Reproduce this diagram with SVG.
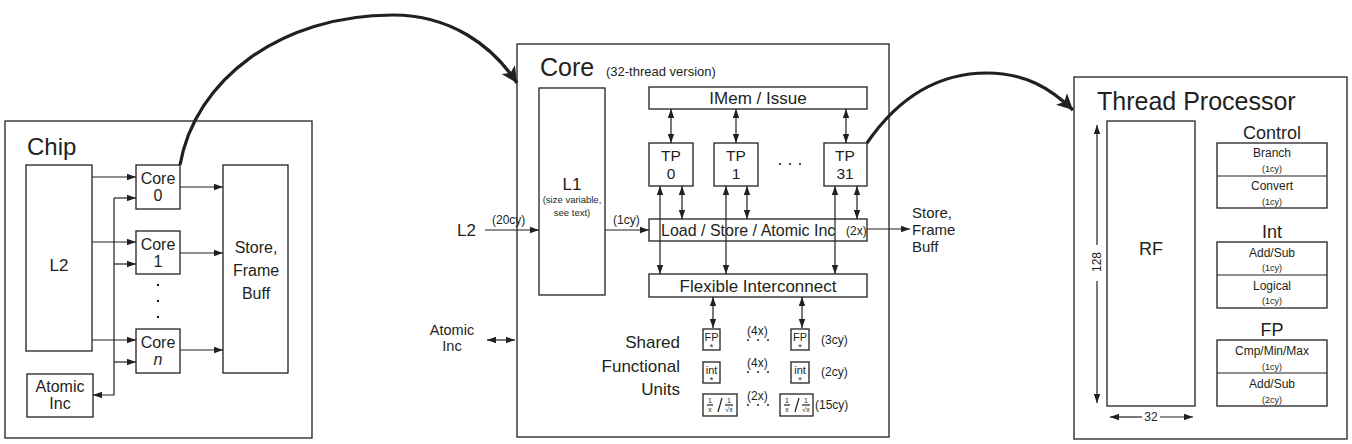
<svg xmlns="http://www.w3.org/2000/svg" width="1352" height="444" viewBox="0 0 1352 444">
<style>
text{font-family:"Liberation Sans",Arial,sans-serif;fill:#231f20}
.box{fill:#fff;stroke:#231f20;stroke-width:1.3}
.ln{fill:none;stroke:#231f20;stroke-width:1.2}
.big{fill:none;stroke:#231f20;stroke-width:3.2}
.m{text-anchor:middle}
.e{text-anchor:end}
.f17{font-size:17px}
.f16{font-size:16px}
.f15{font-size:15.5px}
.f12{font-size:12px}
.f11{font-size:11px}
.f9{font-size:9px}
</style>
<defs>
<marker id="ah" markerUnits="userSpaceOnUse" markerWidth="10" markerHeight="8" refX="9" refY="4" orient="auto-start-reverse">
<path d="M0,0.8 L9,4 L0,7.2 Z" fill="#231f20"/>
</marker>
<marker id="bh" markerUnits="userSpaceOnUse" markerWidth="18" markerHeight="16" refX="16" refY="8" orient="auto">
<path d="M0,0 L16,8 L0,16 L4,8 Z" fill="#231f20"/>
</marker>
</defs>
<rect width="1352" height="444" fill="#fff"/>

<!-- Chip -->
<g id="chip">
<rect class="box" x="5" y="121" width="307" height="317"/>
<text x="27" y="155" font-size="24">Chip</text>
</g>
<g id="chip-l2"><rect class="box" x="26" y="165" width="66" height="186"/><text class="m f17" x="59" y="271">L2</text></g>
<g id="chip-core0"><rect class="box" x="136" y="165" width="44" height="44"/><text class="m f16" x="158" y="184">Core</text><text class="m f16" x="158" y="201">0</text></g>
<g id="chip-core1"><rect class="box" x="136" y="231" width="44" height="43"/><text class="m f16" x="158" y="250">Core</text><text class="m f16" x="158" y="267">1</text></g>
<g id="chip-coren"><rect class="box" x="136" y="329" width="44" height="44"/><text class="m f16" x="158" y="348">Core</text><text class="m f16" x="158" y="365" font-style="italic">n</text></g>
<g id="chip-dots" fill="#231f20"><circle cx="158" cy="285" r="1.2"/><circle cx="158" cy="301" r="1.2"/><circle cx="158" cy="317" r="1.2"/></g>
<g id="chip-store"><rect class="box" x="223" y="165" width="65" height="208"/><text class="m f16" x="256" y="253">Store,</text><text class="m f16" x="256" y="276">Frame</text><text class="m f16" x="256" y="299">Buff</text></g>
<g id="chip-atomic"><rect class="box" x="27" y="374" width="66" height="43"/><text class="m f16" x="60" y="392">Atomic</text><text class="m f16" x="60" y="409">Inc</text></g>

<!-- Core -->
<g id="core">
<rect class="box" x="517" y="44" width="372" height="393"/>
<text x="540" y="76" font-size="25">Core</text>
<text x="606" y="76" font-size="13">(32-thread version)</text>
</g>
<g id="l1"><rect class="box" x="539" y="88" width="66" height="207"/><text class="m f17" x="572" y="190">L1</text><text class="m" font-size="9.5" x="572" y="203">(size variable,</text><text class="m" font-size="9.5" x="572" y="216">see text)</text></g>
<g id="imem"><rect class="box" x="649" y="87" width="218" height="22"/><text class="m f17" x="758" y="104">IMem / Issue</text></g>
<g id="tp0"><rect class="box" x="649" y="143" width="44" height="43"/><text class="m f15" x="671" y="161">TP</text><text class="m f15" x="671" y="179">0</text></g>
<g id="tp1"><rect class="box" x="714" y="143" width="44" height="43"/><text class="m f15" x="736" y="161">TP</text><text class="m f15" x="736" y="179">1</text></g>
<g id="tp31"><rect class="box" x="824" y="143" width="43" height="43"/><text class="m f15" x="845" y="161">TP</text><text class="m f15" x="845" y="179">31</text></g>
<g id="tp-dots" fill="#231f20"><circle cx="780" cy="164" r="1.1"/><circle cx="790" cy="164" r="1.1"/><circle cx="800" cy="164" r="1.1"/></g>
<g id="ls"><rect class="box" x="649" y="219" width="218" height="22"/><text class="f16" x="661" y="236">Load / Store / Atomic Inc</text><text class="f12" x="846" y="235">(2x)</text></g>
<g id="flex"><rect class="box" x="649" y="274" width="218" height="23"/><text class="m f17" x="758" y="292">Flexible Interconnect</text></g>
<g id="core-l2"><text class="f17" x="457" y="236">L2</text><text class="f12" x="492" y="224">(20cy)</text><text class="f12" x="613" y="224">(1cy)</text></g>
<g id="core-atomic"><text class="m" font-size="14.5" x="452" y="335">Atomic</text><text class="m" font-size="14.5" x="452" y="351">Inc</text></g>
<g id="core-store"><text font-size="15" x="912" y="218">Store,</text><text font-size="15" x="912" y="235">Frame</text><text font-size="15" x="912" y="252">Buff</text></g>
<g id="sfu-label"><text class="e f17" x="680" y="348">Shared</text><text class="e f17" x="680" y="372">Functional</text><text class="e f17" x="680" y="395">Units</text></g>

<g id="fu-fp1"><rect class="box" x="703" y="329" width="17" height="21"/><text class="m f11" x="711.5" y="341">FP</text><text class="m f9" x="711.5" y="350">*</text></g>
<g id="fu-fp2"><rect class="box" x="791" y="329" width="18" height="21"/><text class="m f11" x="800" y="341">FP</text><text class="m f9" x="800" y="350">*</text></g>
<g id="fu-int1"><rect class="box" x="703" y="362" width="17" height="21"/><text class="m f11" x="711.5" y="374">int</text><text class="m f9" x="711.5" y="383">*</text></g>
<g id="fu-int2"><rect class="box" x="791" y="362" width="18" height="21"/><text class="m f11" x="800" y="374">int</text><text class="m f9" x="800" y="383">*</text></g>
<g id="fu-rcp1"><rect class="box" x="703" y="394" width="34" height="22"/>
<text class="m" font-size="7" x="710" y="403">1</text><line class="ln" stroke-width="0.7" x1="707" y1="405" x2="713" y2="405"/><text class="m" font-size="7" x="710" y="412">x</text>
<line class="ln" stroke-width="0.7" x1="718" y1="412" x2="722" y2="398"/>
<text class="m" font-size="7" x="729" y="403">1</text><line class="ln" stroke-width="0.7" x1="725" y1="405" x2="733" y2="405"/><text class="m" font-size="7" x="729" y="412">√x</text></g>
<g id="fu-rcp2"><rect class="box" x="780" y="394" width="33" height="22"/>
<text class="m" font-size="7" x="787" y="403">1</text><line class="ln" stroke-width="0.7" x1="784" y1="405" x2="790" y2="405"/><text class="m" font-size="7" x="787" y="412">x</text>
<line class="ln" stroke-width="0.7" x1="795" y1="412" x2="799" y2="398"/>
<text class="m" font-size="7" x="806" y="403">1</text><line class="ln" stroke-width="0.7" x1="802" y1="405" x2="810" y2="405"/><text class="m" font-size="7" x="806" y="412">√x</text></g>
<g id="fu-mult">
<text class="f12" x="747" y="335">(4x)</text><text class="f12" x="747" y="367">(4x)</text><text class="f12" x="747" y="400">(2x)</text>
<g fill="#231f20"><circle cx="748" cy="340" r="1"/><circle cx="758" cy="340" r="1"/><circle cx="768" cy="340" r="1"/>
<circle cx="748" cy="372" r="1"/><circle cx="758" cy="372" r="1"/><circle cx="768" cy="372" r="1"/>
<circle cx="748" cy="405" r="1"/><circle cx="758" cy="405" r="1"/><circle cx="768" cy="405" r="1"/></g>
<text class="f12" x="821" y="344">(3cy)</text><text class="f12" x="821" y="376">(2cy)</text><text class="f12" x="815" y="409">(15cy)</text>
</g>

<!-- Thread Processor -->
<g id="tp">
<rect class="box" x="1074" y="77" width="273" height="362"/>
<text x="1097" y="110" font-size="25">Thread Processor</text>
</g>
<g id="rf"><rect class="box" x="1107" y="121" width="88" height="285"/><text class="m" font-size="18" x="1151" y="255">RF</text></g>
<g id="rf-dims">
<text class="m f12" transform="translate(1101,262) rotate(-90)">128</text>
<text class="m f12" x="1151" y="421">32</text>
</g>
<g id="ctrl"><text class="m" font-size="18" x="1272" y="139">Control</text>
<rect class="box" x="1217" y="143" width="110" height="65"/><line class="ln" x1="1217" y1="176" x2="1327" y2="176"/>
<text class="m f12" x="1272" y="157">Branch</text><text class="m f9" x="1272" y="172">(1cy)</text>
<text class="m f12" x="1272" y="190">Convert</text><text class="m f9" x="1272" y="205">(1cy)</text></g>
<g id="int"><text class="m" font-size="18" x="1272" y="238">Int</text>
<rect class="box" x="1217" y="242" width="110" height="66"/><line class="ln" x1="1217" y1="275" x2="1327" y2="275"/>
<text class="m f12" x="1272" y="257">Add/Sub</text><text class="m f9" x="1272" y="271">(1cy)</text>
<text class="m f12" x="1272" y="290">Logical</text><text class="m f9" x="1272" y="304">(1cy)</text></g>
<g id="fp"><text class="m" font-size="18" x="1272" y="336">FP</text>
<rect class="box" x="1217" y="340" width="110" height="66"/><line class="ln" x1="1217" y1="373" x2="1327" y2="373"/>
<text class="m f12" x="1272" y="355">Cmp/Min/Max</text><text class="m f9" x="1272" y="370">(1cy)</text>
<text class="m f12" x="1272" y="388">Add/Sub</text><text class="m f9" x="1272" y="403">(2cy)</text></g>

<!-- Connectors -->
<g id="connectors">
<line class="ln" x1="92" y1="177" x2="136" y2="177" marker-end="url(#ah)"/>
<line class="ln" x1="92" y1="242" x2="136" y2="242" marker-end="url(#ah)"/>
<line class="ln" x1="92" y1="340" x2="136" y2="340" marker-end="url(#ah)"/>
<line class="ln" x1="114" y1="198" x2="136" y2="198" marker-end="url(#ah)"/>
<line class="ln" x1="114" y1="264" x2="136" y2="264" marker-end="url(#ah)"/>
<line class="ln" x1="114" y1="362" x2="136" y2="362" marker-end="url(#ah)"/>
<polyline class="ln" points="114,198 114,395 93,395" marker-end="url(#ah)"/>
<line class="ln" x1="180" y1="187" x2="223" y2="187" marker-end="url(#ah)"/>
<line class="ln" x1="180" y1="253" x2="223" y2="253" marker-end="url(#ah)"/>
<line class="ln" x1="180" y1="350" x2="223" y2="350" marker-end="url(#ah)"/>
<line class="ln" x1="485" y1="230" x2="539" y2="230" marker-end="url(#ah)"/>
<line class="ln" x1="605" y1="230" x2="649" y2="230" marker-end="url(#ah)"/>
<line class="ln" x1="867" y1="229" x2="910" y2="229" marker-end="url(#ah)"/>
<line class="ln" x1="487" y1="340" x2="515" y2="340" marker-start="url(#ah)" marker-end="url(#ah)"/>
<line class="ln" x1="671" y1="109" x2="671" y2="143" marker-start="url(#ah)" marker-end="url(#ah)"/>
<line class="ln" x1="736" y1="109" x2="736" y2="143" marker-start="url(#ah)" marker-end="url(#ah)"/>
<line class="ln" x1="846" y1="109" x2="846" y2="143" marker-start="url(#ah)" marker-end="url(#ah)"/>
<line class="ln" x1="660" y1="186" x2="660" y2="274" marker-start="url(#ah)" marker-end="url(#ah)"/>
<line class="ln" x1="726" y1="186" x2="726" y2="274" marker-start="url(#ah)" marker-end="url(#ah)"/>
<line class="ln" x1="835" y1="186" x2="835" y2="274" marker-start="url(#ah)" marker-end="url(#ah)"/>
<line class="ln" x1="682" y1="186" x2="682" y2="219" marker-start="url(#ah)" marker-end="url(#ah)"/>
<line class="ln" x1="747" y1="186" x2="747" y2="219" marker-start="url(#ah)" marker-end="url(#ah)"/>
<line class="ln" x1="857" y1="186" x2="857" y2="219" marker-start="url(#ah)" marker-end="url(#ah)"/>
<line class="ln" x1="713" y1="297" x2="713" y2="328" marker-start="url(#ah)" marker-end="url(#ah)"/>
<line class="ln" x1="802" y1="297" x2="802" y2="328" marker-start="url(#ah)" marker-end="url(#ah)"/>
<line class="ln" x1="1097" y1="125" x2="1097" y2="245" marker-start="url(#ah)"/>
<line class="ln" x1="1097" y1="281" x2="1097" y2="403" marker-end="url(#ah)"/>
<line class="ln" x1="1110" y1="417" x2="1142" y2="417" marker-start="url(#ah)"/>
<line class="ln" x1="1160" y1="417" x2="1193" y2="417" marker-end="url(#ah)"/>
<path class="big" d="M180,165 C195,80 280,15 393,15 C450,15 492,45 517,83" marker-end="url(#bh)"/>
<path class="big" d="M867,143 C900,95 940,73 987,73 C1025,73 1050,88 1073,110" marker-end="url(#bh)"/>
</g>
</svg>
